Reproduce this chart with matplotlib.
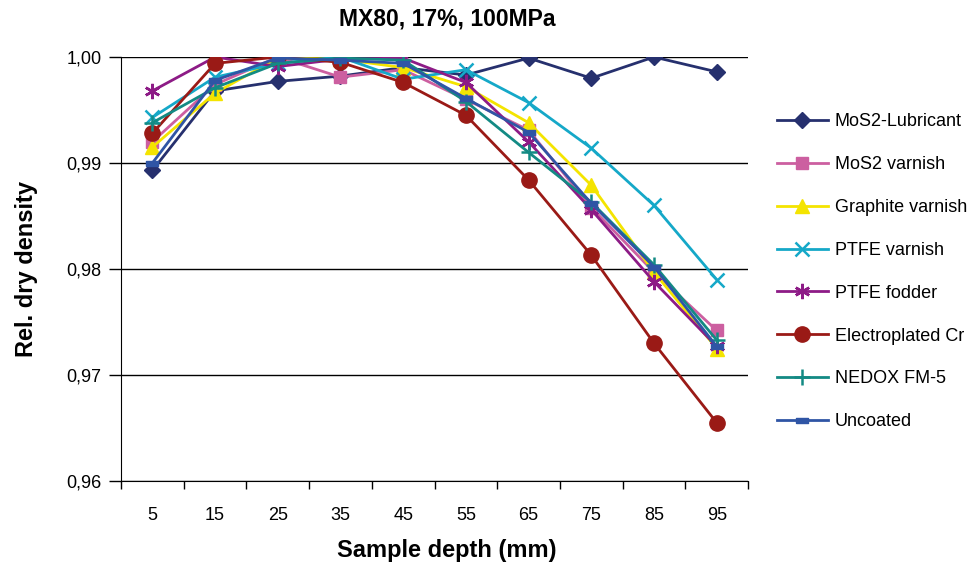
import numpy as np
import matplotlib
matplotlib.use("Agg")
import matplotlib.pyplot as plt
from matplotlib.ticker import FuncFormatter

# data
depths = ['5', '15', '25', '35', '45', '55', '65', '75', '85', '95']

mos2_lubricant = [0.9893, 0.9968, 0.9977, 0.9982, 0.9990, 0.9983, 0.9999, 0.9980, 1.0000, 0.9986]
mos2_varnish = [0.9920, 0.9974, 1.0000, 0.9981, 0.9988, 0.9960, 0.9931, 0.9858, 0.9797, 0.9742]
graphite_varnish = [0.9915, 0.9966, 0.9999, 0.9998, 0.9990, 0.9972, 0.9938, 0.9879, 0.9797, 0.9725]
ptfe_varnish = [0.9943, 0.9981, 0.9994, 1.0000, 0.9979, 0.9988, 0.9957, 0.9914, 0.9860, 0.9790]
ptfe_fodder = [0.9968, 1.0000, 0.9991, 0.9998, 0.9999, 0.9976, 0.9920, 0.9856, 0.9788, 0.9727]
electroplated_cr = [0.9928, 0.9994, 1.0000, 0.9995, 0.9976, 0.9945, 0.9884, 0.9813, 0.9730, 0.9655]
nedox = [0.9938, 0.9971, 0.9994, 0.9999, 0.9997, 0.9958, 0.9910, 0.9863, 0.9804, 0.9733]
uncoated = [0.9900, 0.9978, 0.9999, 0.9997, 0.9994, 0.9961, 0.9929, 0.9862, 0.9802, 0.9727]

# small flat bar used by Excel for the "Uncoated" series
dash = [(-1, -0.45), (1, -0.45), (1, 0.45), (-1, 0.45), (-1, -0.45)]

series = [
    ('MoS2-Lubricant', mos2_lubricant, '#26306e', 'D', 8),
    ('MoS2 varnish', mos2_varnish, '#cc5fa0', 's', 9),
    ('Graphite varnish', graphite_varnish, '#f4e400', '^', 10),
    ('PTFE varnish', ptfe_varnish, '#15a8c8', 'x', 10),
    ('PTFE fodder', ptfe_fodder, '#8d1b86', (6, 2, 0), 11),
    ('Electroplated Cr', electroplated_cr, '#9a1a16', 'o', 11),
    ('NEDOX FM-5', nedox, '#138a84', '+', 11),
    ('Uncoated', uncoated, '#2f55a5', dash, 8),
]

plt.rcParams['font.family'] = ['Liberation Sans', 'DejaVu Sans']

fig = plt.figure(figsize=(9.73, 5.70), dpi=100)
ax = fig.add_axes([0.1244, 0.1561, 0.6444, 0.7439])

x = np.arange(len(depths))
for name, vals, col, mk, ms in series:
    thin = isinstance(mk, str) and mk in ('x', '+') or mk == (6, 2, 0)
    ax.plot(x, vals, color=col, lw=2, marker=mk, markersize=ms,
            markeredgewidth=1.8 if thin else 1, markerfacecolor=col,
            markeredgecolor=col, label=name)

ax.set_xlim(-0.5, len(depths) - 0.5)
ax.set_ylim(0.96, 1.0)
ax.set_yticks([0.96, 0.97, 0.98, 0.99, 1.0])
ax.yaxis.set_major_formatter(FuncFormatter(lambda v, p: ('%.2f' % v).replace('.', ',')))
ax.yaxis.grid(True, color='black', lw=1)
ax.set_axisbelow(True)

# ticks on the category boundaries, labels in between
ax.set_xticks(np.arange(-0.5, len(depths), 1.0))
ax.set_xticklabels([])
ax.set_xticks(x, minor=True)
ax.set_xticklabels(depths, minor=True)
ax.tick_params(axis='x', which='major', direction='out', length=6, width=1)
ax.tick_params(axis='x', which='minor', length=0, pad=19, labelsize=13)
ax.tick_params(axis='y', direction='out', length=9, width=1, labelsize=13, pad=5)

for s in ['top', 'right']:
    ax.spines[s].set_visible(False)

ax.set_xlabel('Sample depth (mm)', fontsize=17, fontweight='bold')
ax.xaxis.set_label_coords(0.52, -0.137)
ax.set_ylabel('Rel. dry density', fontsize=17, fontweight='bold')
ax.yaxis.set_label_coords(-0.132, 0.5)
fig.text(447 / 973, 1 - 19 / 570, 'MX80, 17%, 100MPa', fontsize=16.5,
         fontweight='bold', ha='center', va='center')

ax.legend(loc='upper left', bbox_to_anchor=(0.7986, 0.801), bbox_transform=fig.transFigure,
          frameon=False, fontsize=13, labelspacing=1.43, handlelength=2.8,
          handletextpad=0.4, borderaxespad=0, borderpad=0)

fig.savefig('out.png', dpi=100)
